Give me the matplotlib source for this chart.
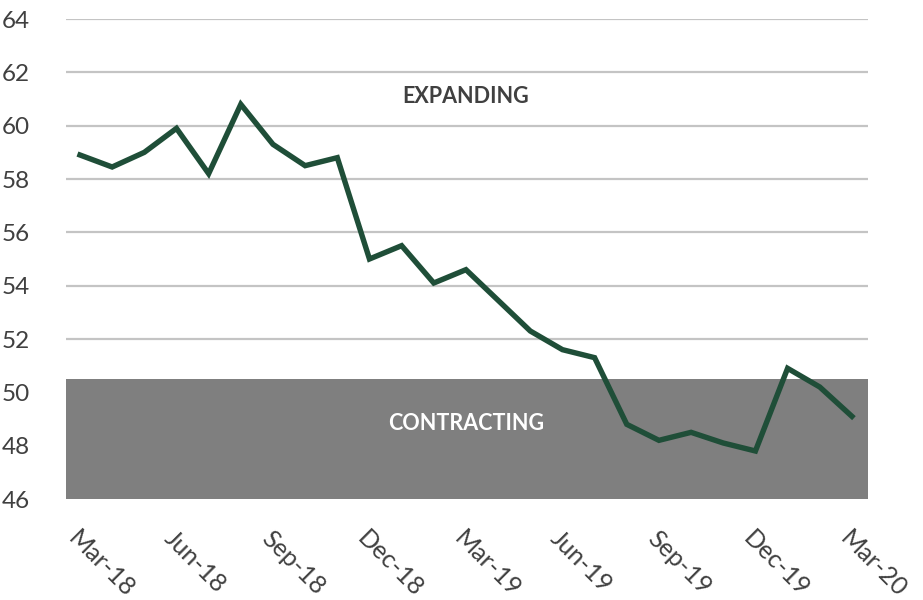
import matplotlib
matplotlib.use("Agg")
import matplotlib.pyplot as plt

months = ["Mar-18", "Apr-18", "May-18", "Jun-18", "Jul-18", "Aug-18", "Sep-18", "Oct-18",
          "Nov-18", "Dec-18", "Jan-19", "Feb-19", "Mar-19", "Apr-19", "May-19", "Jun-19",
          "Jul-19", "Aug-19", "Sep-19", "Oct-19", "Nov-19", "Dec-19", "Jan-20", "Feb-20", "Mar-20"]
values = [58.9, 58.45, 59.0, 59.9, 58.2, 60.8, 59.3, 58.5, 58.8, 55.0, 55.5, 54.1,
          54.6, 53.45, 52.3, 51.6, 51.3, 48.8, 48.2, 48.5, 48.1, 47.8, 50.9, 50.2, 49.1]
tick_months = ["Mar-18", "Jun-18", "Sep-18", "Dec-18", "Mar-19", "Jun-19", "Sep-19", "Dec-19", "Mar-20"]
y_ticks = [46, 48, 50, 52, 54, 56, 58, 60, 62, 64]
band_low, band_high = 46, 50.5

fig = plt.figure(figsize=(9.23, 6.0), dpi=100)
ax = fig.add_axes([66/923, 1-499/600, (868-66)/923, (499-19)/600])

x = list(range(len(months)))
ax.axhspan(band_low, band_high, color="#7f7f7f", zorder=1, lw=0)
for yv in y_ticks:
    ax.axhline(yv, color="#c4c4c4", lw=1.6, zorder=0)
ax.plot(x, values, color="#1f4e38", lw=3.9, zorder=3, solid_joinstyle="miter")

ax.set_xlim(-0.435, 24.5)
ax.set_ylim(46, 64)
ax.set_yticks(y_ticks)
ax.set_yticklabels([str(v) for v in y_ticks], fontsize=17.5, color="#404040",
                   family=["Lato", "DejaVu Sans"])
tpos = [months.index(m) for m in tick_months]
ax.set_xticks(tpos)
ax.set_xticklabels(tick_months, rotation=-45, ha="left", va="top", rotation_mode="anchor",
                   fontsize=18, color="#404040", family=["Lato", "DejaVu Sans"])
ax.tick_params(axis="both", length=0)
ax.tick_params(axis="y", pad=26)
ax.tick_params(axis="x", pad=20)
for s in ax.spines.values():
    s.set_visible(False)

ax.text(12, 61.1, "EXPANDING", ha="center", va="center", fontsize=15.5, fontweight="bold",
        color="#404040", family=["Lato", "DejaVu Sans"], zorder=4)
ax.text(12, 48.85, "CONTRACTING", ha="center", va="center", fontsize=15.5, fontweight="bold",
        color="white", family=["Lato", "DejaVu Sans"], zorder=4)

fig.savefig("out.png", dpi=100)
